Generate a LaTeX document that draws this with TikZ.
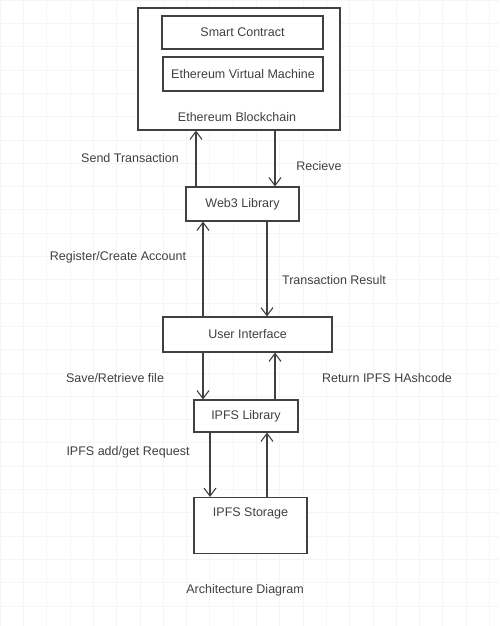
\documentclass[tikz,border=0pt]{standalone}
\usepackage{fontspec}
\setmainfont{Liberation Sans}
\usetikzlibrary{arrows.meta}

\begin{document}
\begin{tikzpicture}[
		x=1pt,
		y=-1pt,
		thick,
		every node/.style={font=\fontsize{12.5}{15}\selectfont, text=black!75},
		block/.style={draw=black!75, line width=1.1pt, fill=white, inner sep=0pt},
		flow/.style={-{Straight Barb[length=8pt,width=12pt]}, draw=black!75, line width=1.1pt}
	]
		\useasboundingbox (0,0) rectangle (499,626);
		\fill[white] (0,0) rectangle (499,626);
		\foreach \g in {0,23.3,...,626} \draw[black!4, line width=0.6pt] (0,\g) -- (499,\g);
		\foreach \g in {0,23.3,...,499} \draw[black!4, line width=0.6pt] (\g,0) -- (\g,626);
		% blockchain
		\node[block, minimum width=202pt, minimum height=122pt] (eth) at (239,69) {};
		\node[block, minimum width=161pt, minimum height=33pt] (smart) at (242.5,32.5) {Smart Contract};
		\node[block, minimum width=160pt, minimum height=34pt] (evm) at (243,74) {Ethereum Virtual Machine};
		\node (ethlabel) at (237,117) {Ethereum Blockchain};
		% libraries and ui
		\node[block, minimum width=113pt, minimum height=34pt] (web3) at (242.5,204) {Web3 Library};
		\node[block, minimum width=169pt, minimum height=35pt] (ui) at (247.5,334.5) {User Interface};
		\node[block, minimum width=104pt, minimum height=32pt] (ipfslib) at (246,416) {IPFS Library};
		\node[block, minimum width=113pt, minimum height=56pt] (storage) at (250.5,525.5) {};
		\node (storagelabel) at (250.5,513) {IPFS Storage};
		% connectors
		\draw[flow] (web3.north -| 196,0) -- (eth.south -| 196,0);
		\draw[flow] (eth.south -| 275,0) -- (web3.north -| 275,0);
		\draw[flow] (ui.north -| 203,0) -- (web3.south -| 203,0);
		\draw[flow] (web3.south -| 267,0) -- (ui.north -| 267,0);
		\draw[flow] (ui.south -| 203,0) -- (ipfslib.north -| 203,0);
		\draw[flow] (ipfslib.north -| 275,0) -- (ui.south -| 275,0);
		\draw[flow] (ipfslib.south -| 210,0) -- (storage.north -| 210,0);
		\draw[flow] (storage.north -| 267,0) -- (ipfslib.south -| 267,0);
		% labels
		\node (send) at (130,158) {Send Transaction};
		\node (recv) at (319,166) {Recieve};
		\node (register) at (118,257) {Register/Create Account};
		\node (result) at (334,280) {Transaction Result};
		\node (save) at (115,378) {Save/Retrieve file};
		\node (hash) at (387,378) {Return IPFS HAshcode};
		\node (request) at (128,452) {IPFS add/get Request};
		\node (caption) at (245,590) {Architecture Diagram};
	\end{tikzpicture}
\end{document}
